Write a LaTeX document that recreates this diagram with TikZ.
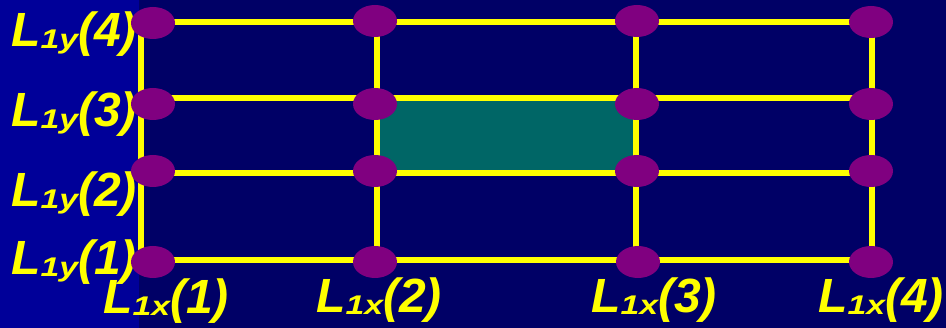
\documentclass[tikz,border=0pt]{standalone}
\usepackage{fontspec}
\setmainfont{Liberation Sans}
\usetikzlibrary{shapes.geometric}
\definecolor{bgleft}{RGB}{0,0,153}
\definecolor{bgright}{RGB}{0,0,102}
\definecolor{gridyellow}{RGB}{255,255,0}
\definecolor{dotpurple}{RGB}{128,0,128}
\definecolor{cellteal}{RGB}{0,102,102}
\newcommand\mylab[2]{{\fontsize{48}{48}\selectfont L\raisebox{-1.5pt}{\scalebox{1.25}[1]{\fontsize{27}{27}\selectfont #1}}(#2)}}
\tikzset{
  gridline/.style={draw=gridyellow, line width=6pt},
  dotnode/.style={ellipse, fill=dotpurple, minimum width=44pt, minimum height=32pt, inner sep=0pt},
  lbl/.style={anchor=base west, inner sep=0pt, text=gridyellow, font=\bfseries\itshape},
}
\begin{document}
\begin{tikzpicture}[x=1pt,y=-1pt]
\useasboundingbox (0,0) rectangle (946,328);
\fill[bgright] (0,0) rectangle (946,328);
\fill[bgleft] (0,0) rectangle (139,328);
% grid coordinates
\coordinate (g11) at (141,22);  \coordinate (g21) at (377,22);  \coordinate (g31) at (636,22);  \coordinate (g41) at (872,22);
\coordinate (g12) at (141,98);  \coordinate (g22) at (377,98);  \coordinate (g32) at (636,98);  \coordinate (g42) at (872,98);
\coordinate (g13) at (141,173); \coordinate (g23) at (377,173); \coordinate (g33) at (636,173); \coordinate (g43) at (872,173);
\coordinate (g14) at (141,260); \coordinate (g24) at (377,260); \coordinate (g34) at (636,260); \coordinate (g44) at (872,260);
% highlighted cell
\fill[cellteal] (g22) rectangle (g33);
% grid lines
\draw[gridline] (g11) -- (g41);
\draw[gridline] (g12) -- (g42);
\draw[gridline] (g13) -- (g43);
\draw[gridline] (g14) -- (g44);
\draw[gridline] (g11) -- (g14);
\draw[gridline] (g21) -- (g24);
\draw[gridline] (g31) -- (g34);
\draw[gridline] (g41) -- (g44);
% labels
\node[lbl] (ly4) at (11,47)  {\mylab{1y}{4}};
\node[lbl] (ly3) at (11,127) {\mylab{1y}{3}};
\node[lbl] (ly2) at (11,207) {\mylab{1y}{2}};
\node[lbl] (ly1) at (11,275) {\mylab{1y}{1}};
\node[lbl] (lx1) at (103,314) {\mylab{1x}{1}};
\node[lbl] (lx2) at (316,313) {\mylab{1x}{2}};
\node[lbl] (lx3) at (591,313) {\mylab{1x}{3}};
\node[lbl] (lx4) at (818,313) {\mylab{1x}{4}};
% dots
\node[dotnode] (n11) at (153,23) {};  \node[dotnode] (n21) at (375,21) {};  \node[dotnode] (n31) at (637,21) {};  \node[dotnode] (n41) at (871,22) {};
\node[dotnode] (n12) at (153,104) {}; \node[dotnode] (n22) at (375,104) {}; \node[dotnode] (n32) at (637,104) {}; \node[dotnode] (n42) at (871,104) {};
\node[dotnode] (n13) at (153,171) {}; \node[dotnode] (n23) at (375,171) {}; \node[dotnode] (n33) at (637,171) {}; \node[dotnode] (n43) at (871,171) {};
\node[dotnode] (n14) at (153,262) {}; \node[dotnode] (n24) at (375,262) {}; \node[dotnode] (n34) at (638,262) {}; \node[dotnode] (n44) at (871,262) {};
\end{tikzpicture}
\end{document}
